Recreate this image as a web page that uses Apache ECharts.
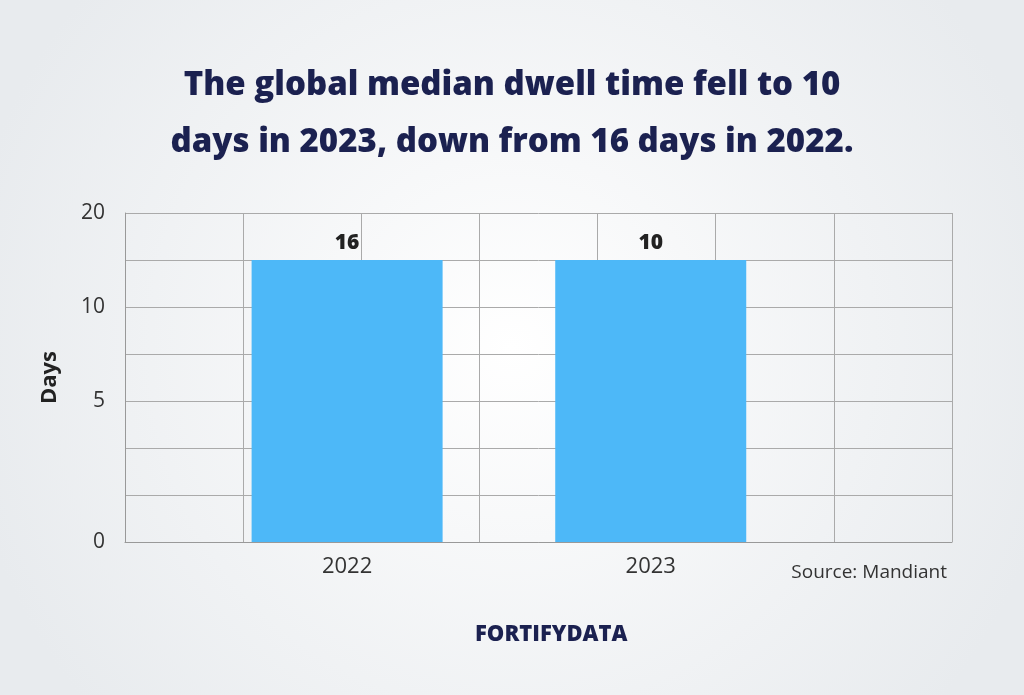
<!DOCTYPE html>
<html><head><meta charset="utf-8">
<script src="https://cdn.jsdelivr.net/npm/echarts@6/dist/echarts.min.js"></script>
<style>html,body{margin:0;padding:0;background:#eef0f2}#c{width:1024px;height:695px}</style>
</head><body><div id="c"></div>
<script>
// Data as drawn in the picture
const categories = ['2022', '2023'];
const barPositions = [1.88, 4.45];      // column positions on the 7-column grid
const drawnHeights = [6, 6];            // bar heights as drawn (grid units)
const valueLabels = [16, 10];           // values printed above bars
const yTickPositions = [0, 3, 5, 7];
const yTickLabels = ['0', '5', '10', '20'];

const chart = echarts.init(document.getElementById('c'));
const ff = '"Open Sans", sans-serif';
chart.setOption({
  backgroundColor: {type:'radial', x:0.5, y:0.5, r:0.8, colorStops:[{offset:0,color:'#ffffff'},{offset:1,color:'#e8ebee'}]},
  title: [{
    text: 'The global median dwell time fell to 10\ndays in 2023, down from 16 days in 2022.',
    left: 'center', top: 52,
    textStyle: {fontFamily: ff, fontWeight: 800, fontSize: 33, color: '#1b2150', lineHeight: 57}
  }, {
    text: 'Source: Mandiant', right: 72, top: 558,
    textStyle: {fontFamily: ff, fontWeight: 400, fontSize: 19, color: '#333'}
  }, {
    text: 'FORTIFYDATA', left: 470, top: 619,
    textStyle: {fontFamily: ff, fontWeight: 800, fontSize: 22, color: '#1b2150'}
  }],
  grid: {left: 125, right: 72, top: 213, bottom: 153},
  xAxis: {
    type: 'value', min: 0, max: 7, interval: 1,
    axisLine: {show: true, lineStyle: {color: '#999'}},
    axisTick: {show: false},
    splitLine: {show: true, lineStyle: {color: '#aaa'}},
    axisLabel: {customValues: barPositions, formatter: v => categories[barPositions.indexOf(v)] ?? '',
      fontFamily: ff, fontSize: 22, color: '#333', margin: 14}
  },
  yAxis: {
    type: 'value', min: 0, max: 7, interval: 1,
    name: 'Days', nameLocation: 'middle', nameGap: 64, nameRotate: 90,
    nameTextStyle: {fontFamily: ff, fontWeight: 700, fontSize: 22, color: '#222'},
    axisLine: {show: true, lineStyle: {color: '#999'}},
    axisTick: {show: false},
    splitLine: {show: true, lineStyle: {color: '#aaa'}},
    axisLabel: {customValues: yTickPositions, formatter: v => yTickLabels[yTickPositions.indexOf(v)] ?? '',
      fontFamily: ff, fontSize: 21, color: '#333', margin: 20}
  },
  series: [{
    type: 'bar', barWidth: 191,
    data: barPositions.map((p, i) => [p, drawnHeights[i]]),
    itemStyle: {color: '#4db8f8'},
    label: {show: true, position: 'top', distance: 6, formatter: p => String(valueLabels[p.dataIndex]),
      fontFamily: ff, fontWeight: 800, fontSize: 21, color: '#222'}
  }]
});
</script></body></html>
